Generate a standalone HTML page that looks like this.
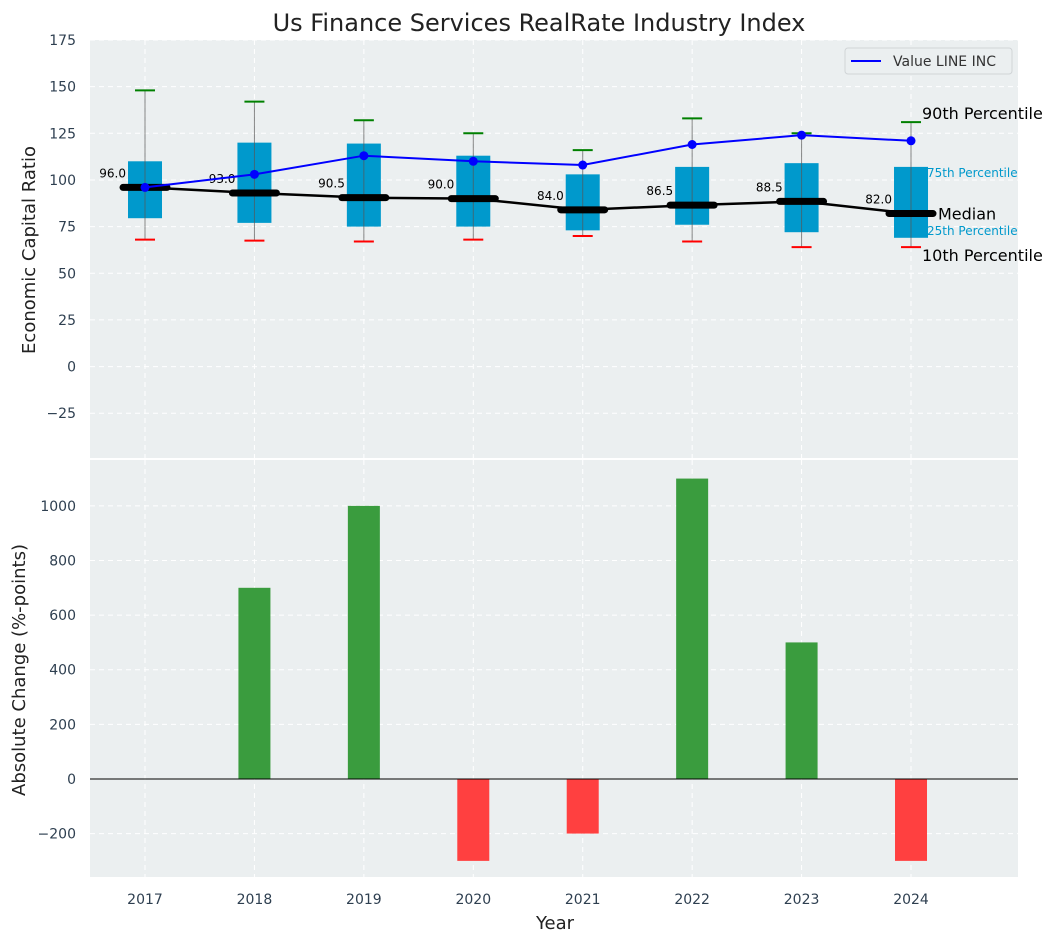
<!DOCTYPE html>
<html><head><meta charset="utf-8"><style>
body{margin:0;background:#fff;font-family:"Liberation Sans","DejaVu Sans",sans-serif}
svg text{font-family:"DejaVu Sans","Liberation Sans",sans-serif}
</style></head><body>
<svg id="c" width="1057" height="942"></svg>
<script>
const years=[2017,2018,2019,2020,2021,2022,2023,2024];
const p10=[68,67.5,67,68,70,67,64,64];
const q1=[79.5,77,75,75,73,76,72,69];
const med=[96,93,90.5,90,84,86.5,88.5,82];
const q3=[110,120,119.5,113,103,107,109,107];
const p90=[148,142,132,125,116,133,125,131];
const valueLine=[96,103,113,110,108,119,124,121];
const changes=[0,700,1000,-300,-200,1100,500,-300];
const topTicks=[-25,0,25,50,75,100,125,150,175];
const botTicks=[-200,0,200,400,600,800,1000];

const L=90,R=1018,T1=40,B1=458,T2=460,B2=877;
const x=v=>145+(v-2017)*109.43;
const y1=v=>T1+(175-v)/(175-(-49))*(B1-T1);
const y2=v=>T2+(1168-v)/(1168-(-359))*(B2-T2);
const svg=document.getElementById('c');
const NS='http://www.w3.org/2000/svg';
function mk(t,a,txt){const e=document.createElementNS(NS,t);for(const k in a)e.setAttribute(k,a[k]);if(txt!==undefined)e.textContent=txt;svg.appendChild(e);return e;}

let e=mk('rect',{x:L,y:T1,width:R-L,height:B1-T1,fill:'#ebeff0'});

e=mk('rect',{x:L,y:T2,width:R-L,height:B2-T2,fill:'#ebeff0'});


years.forEach(yr=>{
 mk('line',{x1:x(yr),x2:x(yr),y1:T1,y2:B1,stroke:'#fff','stroke-dasharray':'5,4','stroke-width':1});
 mk('line',{x1:x(yr),x2:x(yr),y1:T2,y2:B2,stroke:'#fff','stroke-dasharray':'5,4','stroke-width':1});
 e=mk('text',{x:x(yr),y:904,'text-anchor':'middle','font-size':14,fill:'#2e3f50'},yr);
 
});
topTicks.forEach(t=>{
 mk('line',{x1:L,x2:R,y1:y1(t),y2:y1(t),stroke:'#fff','stroke-dasharray':'5,4'});
 e=mk('text',{x:76,y:y1(t)+5,'text-anchor':'end','font-size':14,fill:'#2e3f50'},t<0?'\u2212'+(-t):t);
 
});
botTicks.forEach(t=>{
 mk('line',{x1:L,x2:R,y1:y2(t),y2:y2(t),stroke:'#fff','stroke-dasharray':'5,4'});
 e=mk('text',{x:76,y:y2(t)+5,'text-anchor':'end','font-size':14,fill:'#2e3f50'},t<0?'\u2212'+(-t):t);
 
});

years.forEach((yr,i)=>{
 const cx=x(yr);
 e=mk('rect',{x:cx-17,y:y1(q3[i]),width:34,height:y1(q1[i])-y1(q3[i]),fill:'#0099cc'});
 
 mk('line',{x1:cx,x2:cx,y1:y1(p90[i]),y2:y1(p10[i]),stroke:'#555','stroke-width':1,'stroke-opacity':0.7});
 e=mk('line',{x1:cx-10,x2:cx+10,y1:y1(p90[i]),y2:y1(p90[i]),stroke:'green','stroke-width':2});
 
 e=mk('line',{x1:cx-10,x2:cx+10,y1:y1(p10[i]),y2:y1(p10[i]),stroke:'red','stroke-width':2});
 
});
e=mk('polyline',{points:years.map((yr,i)=>x(yr)+','+y1(med[i])).join(' '),fill:'none',stroke:'#000','stroke-width':2.5});

years.forEach((yr,i)=>{
 const cx=x(yr);
 e=mk('line',{x1:cx-22,x2:cx+22,y1:y1(med[i]),y2:y1(med[i]),stroke:'#000','stroke-width':7,'stroke-linecap':'round'});
 
 e=mk('text',{x:cx-19,y:y1(med[i])-10,'text-anchor':'end','font-size':12,fill:'#000'},med[i].toFixed(1));
 
});
e=mk('polyline',{points:years.map((yr,i)=>x(yr)+','+y1(valueLine[i])).join(' '),fill:'none',stroke:'blue','stroke-width':2});

years.forEach((yr,i)=>{
 e=mk('circle',{cx:x(yr),cy:y1(valueLine[i]),r:4.5,fill:'blue'});
 
});
const lx=x(2024);
e=mk('text',{x:lx+11,y:y1(p90[7])-3,'font-size':16,fill:'#000'},'90th Percentile');
e=mk('text',{x:lx+16,y:y1(q3[7])+10,'font-size':12,fill:'#0099cc'},'75th Percentile');
e=mk('text',{x:lx+27,y:y1(med[7])+6,'font-size':16,fill:'#000'},'Median');
e=mk('text',{x:lx+16,y:y1(q1[7])-3,'font-size':12,fill:'#0099cc'},'25th Percentile');
e=mk('text',{x:lx+11,y:y1(p10[7])+14,'font-size':16,fill:'#000'},'10th Percentile');

e=mk('rect',{x:845,y:48,width:167,height:26,rx:3,fill:'#ebeff0',stroke:'#d0d4d6'});

mk('line',{x1:851,x2:881,y1:61,y2:61,stroke:'blue','stroke-width':2});
e=mk('text',{x:893,y:66,'font-size':14,fill:'#333'},'Value LINE INC');


years.forEach((yr,i)=>{
 const v=changes[i];const a=y2(Math.max(v,0)),b=y2(Math.min(v,0));
 e=mk('rect',{x:x(yr)-16,y:a,width:32,height:b-a,fill:v>=0?'#3a9c3e':'#ff4040'});
 
});
mk('line',{x1:L,x2:R,y1:y2(0),y2:y2(0),stroke:'#000','stroke-width':1});

e=mk('text',{x:539,y:31,'text-anchor':'middle','font-size':24,fill:'#222'},'Us Finance Services RealRate Industry Index');

e=mk('text',{x:0,y:0,'text-anchor':'middle','font-size':18,fill:'#222',transform:'translate(35,250) rotate(-90)'},'Economic Capital Ratio');

e=mk('text',{x:0,y:0,'text-anchor':'middle','font-size':18,fill:'#222',transform:'translate(25,670) rotate(-90)'},'Absolute Change (%-points)');

e=mk('text',{x:555,y:929,'text-anchor':'middle','font-size':18,fill:'#222'},'Year');

</script>
</body></html>
